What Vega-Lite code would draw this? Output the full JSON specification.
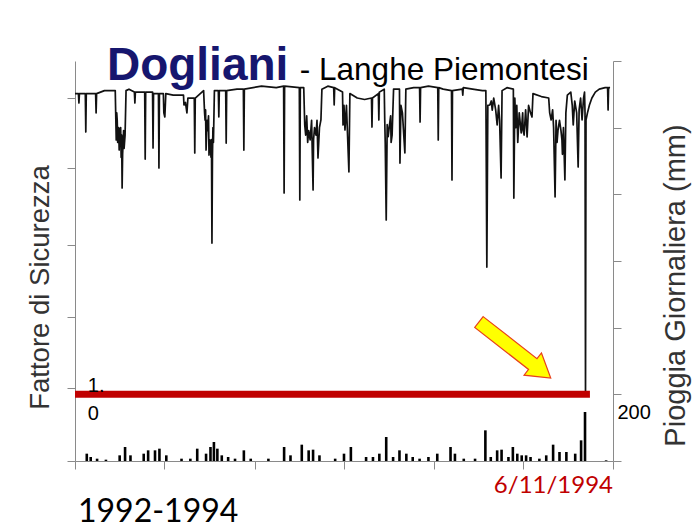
{
  "$schema": "https://vega.github.io/schema/vega-lite/v6.json",
  "width": 538,
  "height": 400,
  "autosize": {"type": "none"},
  "padding": {"left": 75, "top": 61, "right": 87, "bottom": 70},
  "background": "#ffffff",
  "config": {
    "view": {"stroke": null},
    "axis": {
      "grid": false,
      "domainColor": "#8a8a8a",
      "tickColor": "#8a8a8a",
      "tickSize": 8,
      "labels": false,
      "titleFont": "Liberation Sans",
      "titleFontWeight": "normal"
    }
  },
  "datasets": {
    "fattore": [
      {"giorno": "1992-01-01", "fs": 3.03}, {"giorno": "1992-01-08", "fs": 3.03}, {"giorno": "1992-01-09", "fs": 2.966}, {"giorno": "1992-01-10", "fs": 3.03},
      {"giorno": "1992-01-22", "fs": 3.03}, {"giorno": "1992-01-23", "fs": 2.771}, {"giorno": "1992-01-24", "fs": 3.03},
      {"giorno": "1992-02-12", "fs": 3.03}, {"giorno": "1992-02-13", "fs": 2.899}, {"giorno": "1992-02-14", "fs": 3.03},
      {"giorno": "1992-03-01", "fs": 3.05}, {"giorno": "1992-03-23", "fs": 3.05}, {"giorno": "1992-03-25", "fs": 2.717}, {"giorno": "1992-03-26", "fs": 2.9},
      {"giorno": "1992-03-27", "fs": 2.85}, {"giorno": "1992-03-28", "fs": 2.7}, {"giorno": "1992-03-30", "fs": 2.8}, {"giorno": "1992-03-31", "fs": 2.649},
      {"giorno": "1992-04-01", "fs": 2.78}, {"giorno": "1992-04-03", "fs": 2.8}, {"giorno": "1992-04-04", "fs": 2.6}, {"giorno": "1992-04-05", "fs": 2.75},
      {"giorno": "1992-04-06", "fs": 2.393}, {"giorno": "1992-04-07", "fs": 2.62}, {"giorno": "1992-04-09", "fs": 2.78}, {"giorno": "1992-04-10", "fs": 2.66},
      {"giorno": "1992-04-12", "fs": 2.75}, {"giorno": "1992-04-14", "fs": 3.05}, {"giorno": "1992-04-20", "fs": 3.06},
      {"giorno": "1992-05-01", "fs": 3.04}, {"giorno": "1992-05-02", "fs": 2.966}, {"giorno": "1992-05-03", "fs": 3.04},
      {"giorno": "1992-05-22", "fs": 3.04}, {"giorno": "1992-05-23", "fs": 2.588}, {"giorno": "1992-05-24", "fs": 3.04},
      {"giorno": "1992-06-07", "fs": 3.04}, {"giorno": "1992-06-08", "fs": 2.663}, {"giorno": "1992-06-09", "fs": 3.03},
      {"giorno": "1992-06-19", "fs": 3.03}, {"giorno": "1992-06-20", "fs": 2.528}, {"giorno": "1992-06-21", "fs": 3.03},
      {"giorno": "1992-06-29", "fs": 3.03}, {"giorno": "1992-06-30", "fs": 2.9}, {"giorno": "1992-07-02", "fs": 2.872}, {"giorno": "1992-07-04", "fs": 3.03},
      {"giorno": "1992-07-19", "fs": 3.02}, {"giorno": "1992-08-09", "fs": 3.02}, {"giorno": "1992-08-10", "fs": 2.953}, {"giorno": "1992-08-13", "fs": 2.97},
      {"giorno": "1992-08-16", "fs": 2.899}, {"giorno": "1992-08-18", "fs": 3.0}, {"giorno": "1992-08-31", "fs": 3.0}, {"giorno": "1992-09-01", "fs": 2.629},
      {"giorno": "1992-09-02", "fs": 3.0}, {"giorno": "1992-09-19", "fs": 3.05}, {"giorno": "1992-09-21", "fs": 2.9}, {"giorno": "1992-09-22", "fs": 2.85},
      {"giorno": "1992-09-23", "fs": 2.92}, {"giorno": "1992-09-24", "fs": 2.649}, {"giorno": "1992-09-26", "fs": 2.85}, {"giorno": "1992-09-27", "fs": 2.78},
      {"giorno": "1992-09-29", "fs": 2.88}, {"giorno": "1992-09-30", "fs": 2.615}, {"giorno": "1992-10-01", "fs": 2.72}, {"giorno": "1992-10-03", "fs": 2.7},
      {"giorno": "1992-10-04", "fs": 2.6}, {"giorno": "1992-10-05", "fs": 2.72}, {"giorno": "1992-10-06", "fs": 2.021}, {"giorno": "1992-10-07", "fs": 2.6},
      {"giorno": "1992-10-08", "fs": 2.8}, {"giorno": "1992-10-09", "fs": 2.7}, {"giorno": "1992-10-11", "fs": 3.05}, {"giorno": "1992-10-19", "fs": 3.05},
      {"giorno": "1992-10-20", "fs": 2.872}, {"giorno": "1992-10-21", "fs": 3.05}, {"giorno": "1992-11-03", "fs": 3.05}, {"giorno": "1992-11-04", "fs": 2.696},
      {"giorno": "1992-11-05", "fs": 3.05}, {"giorno": "1992-11-26", "fs": 3.06}, {"giorno": "1992-12-09", "fs": 3.06}, {"giorno": "1992-12-10", "fs": 2.649},
      {"giorno": "1992-12-11", "fs": 3.06},
      {"giorno": "1993-01-15", "fs": 3.08}, {"giorno": "1993-02-14", "fs": 3.07}, {"giorno": "1993-03-01", "fs": 3.08}, {"giorno": "1993-03-02", "fs": 2.359},
      {"giorno": "1993-03-03", "fs": 3.08}, {"giorno": "1993-04-02", "fs": 3.07}, {"giorno": "1993-04-03", "fs": 2.312}, {"giorno": "1993-04-04", "fs": 3.07},
      {"giorno": "1993-04-11", "fs": 3.07}, {"giorno": "1993-04-13", "fs": 2.818}, {"giorno": "1993-04-15", "fs": 2.75}, {"giorno": "1993-04-17", "fs": 2.88},
      {"giorno": "1993-04-19", "fs": 2.7}, {"giorno": "1993-04-21", "fs": 2.78}, {"giorno": "1993-04-24", "fs": 2.717}, {"giorno": "1993-04-27", "fs": 2.85},
      {"giorno": "1993-04-30", "fs": 2.379}, {"giorno": "1993-05-01", "fs": 2.72}, {"giorno": "1993-05-03", "fs": 2.8}, {"giorno": "1993-05-06", "fs": 2.75},
      {"giorno": "1993-05-08", "fs": 2.85}, {"giorno": "1993-05-10", "fs": 2.595}, {"giorno": "1993-05-13", "fs": 2.8}, {"giorno": "1993-05-16", "fs": 2.852},
      {"giorno": "1993-05-18", "fs": 3.06}, {"giorno": "1993-05-30", "fs": 3.08},
      {"giorno": "1993-06-11", "fs": 3.07}, {"giorno": "1993-06-12", "fs": 2.953}, {"giorno": "1993-06-13", "fs": 3.07},
      {"giorno": "1993-06-29", "fs": 3.04}, {"giorno": "1993-06-30", "fs": 2.818}, {"giorno": "1993-07-02", "fs": 2.95}, {"giorno": "1993-07-04", "fs": 2.784},
      {"giorno": "1993-07-07", "fs": 2.95}, {"giorno": "1993-07-12", "fs": 2.501}, {"giorno": "1993-07-14", "fs": 3.03}, {"giorno": "1993-07-29", "fs": 3.0},
      {"giorno": "1993-08-13", "fs": 2.99}, {"giorno": "1993-08-27", "fs": 3.0}, {"giorno": "1993-08-28", "fs": 2.804}, {"giorno": "1993-08-29", "fs": 3.0},
      {"giorno": "1993-09-10", "fs": 3.03}, {"giorno": "1993-09-11", "fs": 2.852}, {"giorno": "1993-09-12", "fs": 3.04}, {"giorno": "1993-09-22", "fs": 3.06},
      {"giorno": "1993-09-23", "fs": 2.85}, {"giorno": "1993-09-24", "fs": 2.7}, {"giorno": "1993-09-26", "fs": 2.177}, {"giorno": "1993-09-28", "fs": 2.82},
      {"giorno": "1993-09-30", "fs": 2.74}, {"giorno": "1993-10-02", "fs": 2.798}, {"giorno": "1993-10-05", "fs": 2.88}, {"giorno": "1993-10-06", "fs": 2.7},
      {"giorno": "1993-10-08", "fs": 2.75}, {"giorno": "1993-10-11", "fs": 3.06}, {"giorno": "1993-10-23", "fs": 3.06},
      {"giorno": "1993-10-24", "fs": 2.561}, {"giorno": "1993-10-26", "fs": 2.95}, {"giorno": "1993-10-29", "fs": 2.9}, {"giorno": "1993-11-03", "fs": 2.629},
      {"giorno": "1993-11-05", "fs": 3.06}, {"giorno": "1993-11-21", "fs": 3.07}, {"giorno": "1993-12-03", "fs": 3.07}, {"giorno": "1993-12-04", "fs": 2.838},
      {"giorno": "1993-12-05", "fs": 3.07}, {"giorno": "1993-12-21", "fs": 3.08}, {"giorno": "1994-01-09", "fs": 3.07}, {"giorno": "1994-01-10", "fs": 2.717},
      {"giorno": "1994-01-11", "fs": 3.07}, {"giorno": "1994-01-20", "fs": 3.06}, {"giorno": "1994-02-06", "fs": 3.05}, {"giorno": "1994-02-07", "fs": 2.447},
      {"giorno": "1994-02-08", "fs": 3.05}, {"giorno": "1994-02-28", "fs": 3.06}, {"giorno": "1994-03-01", "fs": 3.02}, {"giorno": "1994-03-02", "fs": 3.07},
      {"giorno": "1994-03-21", "fs": 3.06}, {"giorno": "1994-04-10", "fs": 3.05}, {"giorno": "1994-04-17", "fs": 3.05}, {"giorno": "1994-04-19", "fs": 1.859},
      {"giorno": "1994-04-21", "fs": 2.95}, {"giorno": "1994-04-25", "fs": 2.953}, {"giorno": "1994-04-28", "fs": 2.98}, {"giorno": "1994-04-30", "fs": 2.919},
      {"giorno": "1994-05-03", "fs": 3.0}, {"giorno": "1994-05-07", "fs": 2.92}, {"giorno": "1994-05-10", "fs": 2.818}, {"giorno": "1994-05-13", "fs": 2.95},
      {"giorno": "1994-05-15", "fs": 2.85}, {"giorno": "1994-05-18", "fs": 2.46}, {"giorno": "1994-05-20", "fs": 3.05}, {"giorno": "1994-05-30", "fs": 3.07},
      {"giorno": "1994-06-12", "fs": 3.06}, {"giorno": "1994-06-13", "fs": 2.325}, {"giorno": "1994-06-15", "fs": 3.0}, {"giorno": "1994-06-17", "fs": 2.8},
      {"giorno": "1994-06-19", "fs": 2.95}, {"giorno": "1994-06-21", "fs": 2.7}, {"giorno": "1994-06-24", "fs": 2.9}, {"giorno": "1994-06-28", "fs": 2.764},
      {"giorno": "1994-07-01", "fs": 2.9}, {"giorno": "1994-07-02", "fs": 2.78}, {"giorno": "1994-07-04", "fs": 2.75}, {"giorno": "1994-07-07", "fs": 2.92},
      {"giorno": "1994-07-10", "fs": 2.737}, {"giorno": "1994-07-13", "fs": 2.95}, {"giorno": "1994-07-17", "fs": 2.9},
      {"giorno": "1994-07-20", "fs": 2.872}, {"giorno": "1994-07-22", "fs": 3.03}, {"giorno": "1994-08-08", "fs": 3.01}, {"giorno": "1994-08-23", "fs": 3.0},
      {"giorno": "1994-08-25", "fs": 2.9}, {"giorno": "1994-08-28", "fs": 2.852}, {"giorno": "1994-08-31", "fs": 2.92}, {"giorno": "1994-09-02", "fs": 2.8},
      {"giorno": "1994-09-05", "fs": 2.332}, {"giorno": "1994-09-07", "fs": 2.85}, {"giorno": "1994-09-09", "fs": 2.7}, {"giorno": "1994-09-11", "fs": 2.784},
      {"giorno": "1994-09-14", "fs": 2.85}, {"giorno": "1994-09-17", "fs": 2.78}, {"giorno": "1994-09-19", "fs": 2.717}, {"giorno": "1994-09-20", "fs": 2.62},
      {"giorno": "1994-09-22", "fs": 2.8}, {"giorno": "1994-09-25", "fs": 2.447},
      {"giorno": "1994-09-27", "fs": 2.9}, {"giorno": "1994-09-30", "fs": 3.02}, {"giorno": "1994-10-07", "fs": 3.04}, {"giorno": "1994-10-10", "fs": 2.95},
      {"giorno": "1994-10-12", "fs": 2.818}, {"giorno": "1994-10-15", "fs": 2.98}, {"giorno": "1994-10-19", "fs": 2.9}, {"giorno": "1994-10-22", "fs": 2.534},
      {"giorno": "1994-10-24", "fs": 2.92}, {"giorno": "1994-10-27", "fs": 3.0}, {"giorno": "1994-10-30", "fs": 2.852}, {"giorno": "1994-11-02", "fs": 3.0},
      {"giorno": "1994-11-04", "fs": 3.04}, {"giorno": "1994-11-05", "fs": 2.9}, {"giorno": "1994-11-06", "fs": 1.0}, {"giorno": "1994-11-07", "fs": 2.852},
      {"giorno": "1994-11-10", "fs": 2.9}, {"giorno": "1994-11-14", "fs": 2.953}, {"giorno": "1994-11-19", "fs": 3.0}, {"giorno": "1994-11-26", "fs": 3.04},
      {"giorno": "1994-12-04", "fs": 3.06}, {"giorno": "1994-12-16", "fs": 3.07}, {"giorno": "1994-12-21", "fs": 3.07}, {"giorno": "1994-12-22", "fs": 2.919},
      {"giorno": "1994-12-23", "fs": 3.07}, {"giorno": "1994-12-26", "fs": 3.07}
    ],
    "pioggia": [
      {"giorno": "1992-01-25", "mm": 22}, {"giorno": "1992-02-02", "mm": 12}, {"giorno": "1992-02-15", "mm": 7}, {"giorno": "1992-03-04", "mm": 4},
      {"giorno": "1992-04-01", "mm": 17}, {"giorno": "1992-04-12", "mm": 42}, {"giorno": "1992-04-23", "mm": 17}, {"giorno": "1992-05-20", "mm": 22},
      {"giorno": "1992-05-29", "mm": 32}, {"giorno": "1992-06-12", "mm": 32}, {"giorno": "1992-06-21", "mm": 37}, {"giorno": "1992-07-05", "mm": 17},
      {"giorno": "1992-08-05", "mm": 7}, {"giorno": "1992-08-23", "mm": 7}, {"giorno": "1992-09-06", "mm": 37}, {"giorno": "1992-09-24", "mm": 22},
      {"giorno": "1992-10-03", "mm": 42}, {"giorno": "1992-10-10", "mm": 57}, {"giorno": "1992-10-17", "mm": 37}, {"giorno": "1992-10-26", "mm": 17},
      {"giorno": "1992-11-08", "mm": 12}, {"giorno": "1992-11-22", "mm": 7}, {"giorno": "1992-12-10", "mm": 32}, {"giorno": "1992-12-24", "mm": 7},
      {"giorno": "1993-01-29", "mm": 7}, {"giorno": "1993-03-02", "mm": 42}, {"giorno": "1993-03-15", "mm": 17}, {"giorno": "1993-04-07", "mm": 49},
      {"giorno": "1993-04-21", "mm": 32}, {"giorno": "1993-04-30", "mm": 34}, {"giorno": "1993-05-13", "mm": 17}, {"giorno": "1993-06-14", "mm": 7},
      {"giorno": "1993-07-02", "mm": 22}, {"giorno": "1993-07-16", "mm": 42}, {"giorno": "1993-08-16", "mm": 12}, {"giorno": "1993-08-30", "mm": 12},
      {"giorno": "1993-09-12", "mm": 22}, {"giorno": "1993-09-26", "mm": 72}, {"giorno": "1993-10-10", "mm": 12}, {"giorno": "1993-10-23", "mm": 32},
      {"giorno": "1993-11-06", "mm": 22}, {"giorno": "1993-11-19", "mm": 12}, {"giorno": "1993-12-03", "mm": 7}, {"giorno": "1993-12-21", "mm": 12},
      {"giorno": "1994-01-08", "mm": 22}, {"giorno": "1994-02-04", "mm": 42}, {"giorno": "1994-02-13", "mm": 22}, {"giorno": "1994-03-03", "mm": 7},
      {"giorno": "1994-03-26", "mm": 7}, {"giorno": "1994-04-16", "mm": 92}, {"giorno": "1994-04-27", "mm": 12}, {"giorno": "1994-05-10", "mm": 32},
      {"giorno": "1994-05-19", "mm": 34}, {"giorno": "1994-06-02", "mm": 12}, {"giorno": "1994-06-11", "mm": 42}, {"giorno": "1994-06-20", "mm": 22},
      {"giorno": "1994-06-29", "mm": 17}, {"giorno": "1994-07-08", "mm": 17}, {"giorno": "1994-07-17", "mm": 12}, {"giorno": "1994-08-04", "mm": 7},
      {"giorno": "1994-08-18", "mm": 17}, {"giorno": "1994-09-01", "mm": 49}, {"giorno": "1994-09-14", "mm": 27}, {"giorno": "1994-09-28", "mm": 27},
      {"giorno": "1994-10-16", "mm": 22}, {"giorno": "1994-10-28", "mm": 62}, {"giorno": "1994-11-05", "mm": 147}, {"giorno": "1994-12-18", "mm": 2}
    ],
    "soglia": [
      {"giorno": "1992-01-01", "fine": "1994-11-15", "fs": 1.0}
    ],
    "evento": [
      {"giorno": "1994-06-15", "fs": 1.299}
    ]
  },
  "encoding": {
    "x": {
      "field": "giorno",
      "type": "temporal",
      "scale": {"domain": [{"year": 1992, "month": 1, "date": 1}, {"year": 1995, "month": 1, "date": 1}], "padding": 0},
      "axis": {
        "title": null,
        "values": [
          {"year": 1992, "month": 1, "date": 1}, {"year": 1992, "month": 7, "date": 1},
          {"year": 1993, "month": 1, "date": 1}, {"year": 1993, "month": 7, "date": 1},
          {"year": 1994, "month": 1, "date": 1}, {"year": 1994, "month": 7, "date": 1},
          {"year": 1995, "month": 1, "date": 1}
        ]
      }
    }
  },
  "resolve": {"scale": {"y": "independent"}},
  "layer": [
    {
      "data": {"name": "fattore"},
      "mark": {"type": "line", "color": "#111111", "strokeWidth": 1.7, "interpolate": "linear", "strokeJoin": "round"},
      "encoding": {
        "y": {
          "field": "fs",
          "type": "quantitative",
          "scale": {"domain": [0.55, 3.25], "nice": false, "zero": false, "padding": 0},
          "axis": {
            "orient": "left",
            "values": [0.55, 1.04, 1.52, 2.01, 2.53, 3.0],
            "title": "Fattore di Sicurezza",
            "titleFontSize": 27.5,
            "titleColor": "#333333",
            "titleAngle": -90,
            "titleBaseline": "middle",
            "titleX": -35,
            "titleY": 226
          }
        }
      }
    },
    {
      "data": {"name": "soglia"},
      "mark": {"type": "rule", "color": "#c00000", "strokeWidth": 7},
      "encoding": {
        "x2": {"field": "fine"},
        "y": {"field": "fs", "type": "quantitative", "scale": {"domain": [0.55, 3.25], "nice": false, "zero": false, "padding": 0}, "axis": null}
      }
    },
    {
      "data": {"name": "evento"},
      "mark": {
        "type": "point",
        "shape": "M-1,-0.15L0.5,-0.15L0.5,-0.31L1,0L0.5,0.31L0.5,0.15L-1,0.15Z",
        "size": 8300,
        "angle": 38,
        "filled": true,
        "fill": "#ffff00",
        "stroke": "#e8401c",
        "strokeWidth": 1.2,
        "opacity": 1
      },
      "encoding": {
        "y": {"field": "fs", "type": "quantitative", "scale": {"domain": [0.55, 3.25], "nice": false, "zero": false, "padding": 0}, "axis": null}
      }
    },
    {
      "data": {"values": [{"giorno": "1992-03-06", "fs": 3.122}]},
      "mark": {"type": "text", "text": "Dogliani", "font": "Liberation Sans", "fontWeight": "bold", "fontSize": 46, "color": "#16166e", "align": "left", "baseline": "alphabetic"},
      "encoding": {
        "y": {"field": "fs", "type": "quantitative", "scale": {"domain": [0.55, 3.25], "nice": false, "zero": false, "padding": 0}, "axis": null}
      }
    },
    {
      "data": {"values": [{"giorno": "1993-04-03", "fs": 3.122}]},
      "mark": {"type": "text", "text": "- Langhe Piemontesi", "font": "Liberation Sans", "fontSize": 31.5, "color": "#000000", "align": "left", "baseline": "alphabetic"},
      "encoding": {
        "y": {"field": "fs", "type": "quantitative", "scale": {"domain": [0.55, 3.25], "nice": false, "zero": false, "padding": 0}, "axis": null}
      }
    },
    {
      "data": {"values": [{"giorno": "1992-01-27", "fs": 1.016}]},
      "mark": {"type": "text", "text": "1.", "font": "Liberation Sans", "fontSize": 20, "color": "#000000", "align": "left", "baseline": "alphabetic"},
      "encoding": {
        "y": {"field": "fs", "type": "quantitative", "scale": {"domain": [0.55, 3.25], "nice": false, "zero": false, "padding": 0}, "axis": null}
      }
    },
    {
      "data": {"values": [{"giorno": "1992-01-27", "fs": 0.827}]},
      "mark": {"type": "text", "text": "0", "font": "Liberation Sans", "fontSize": 20, "color": "#000000", "align": "left", "baseline": "alphabetic"},
      "encoding": {
        "y": {"field": "fs", "type": "quantitative", "scale": {"domain": [0.55, 3.25], "nice": false, "zero": false, "padding": 0}, "axis": null}
      }
    },
    {
      "data": {"values": [{"giorno": "1995-01-01", "fs": 0.334}]},
      "mark": {"type": "text", "text": "6/11/1994", "font": "Lato", "fontSize": 24, "color": "#c00000", "align": "right", "baseline": "alphabetic"},
      "encoding": {
        "y": {"field": "fs", "type": "quantitative", "scale": {"domain": [0.55, 3.25], "nice": false, "zero": false, "padding": 0}, "axis": null}
      }
    },
    {
      "data": {"values": [{"giorno": "1992-01-07", "fs": 0.138}]},
      "mark": {"type": "text", "text": "1992-1994", "font": "Lato", "fontSize": 32, "color": "#000000", "align": "left", "baseline": "alphabetic"},
      "encoding": {
        "y": {"field": "fs", "type": "quantitative", "scale": {"domain": [0.55, 3.25], "nice": false, "zero": false, "padding": 0}, "axis": null}
      }
    },
    {
      "data": {"name": "pioggia"},
      "mark": {"type": "bar", "size": 2.6, "color": "#000000"},
      "encoding": {
        "y": {
          "field": "mm",
          "type": "quantitative",
          "scale": {"domain": [0, 1200], "padding": 0},
          "axis": {
            "orient": "right",
            "values": [0, 200, 400, 600, 800, 1000, 1200],
            "labels": true,
            "labelExpr": "datum.value == 200 ? '200' : ''",
            "labelFont": "Liberation Sans",
            "labelFontSize": 20,
            "labelColor": "#000000",
            "labelPadding": -4,
            "labelOffset": 18,
            "title": "Pioggia Giornaliera (mm)",
            "titleFontSize": 29,
            "titleColor": "#333333",
            "titleAngle": -90,
            "titleBaseline": "middle",
            "titleX": 62,
            "titleY": 224
          }
        }
      }
    }
  ]
}
